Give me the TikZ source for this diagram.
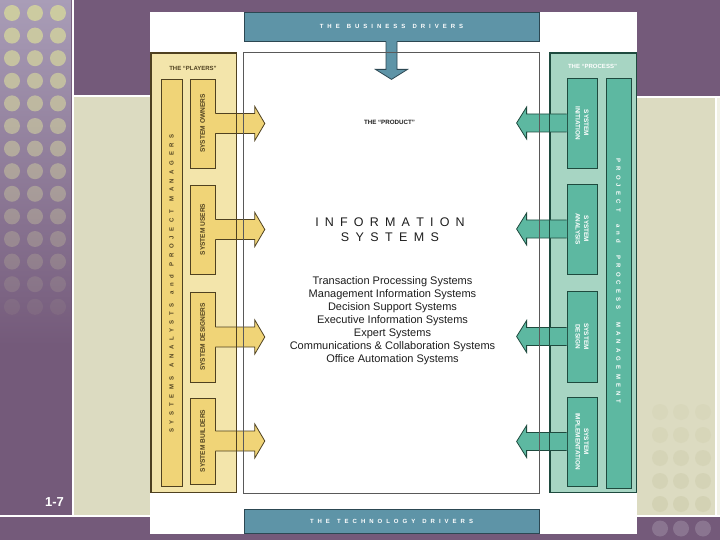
\documentclass[tikz,border=0pt]{standalone}
\usepackage{fontspec}
\setmainfont{Liberation Sans}
\usetikzlibrary{calc}
\definecolor{purp}{HTML}{745A7A}
\definecolor{lav}{HTML}{A99DB7}
\definecolor{khaki}{HTML}{DCDBC1}
\definecolor{khakidot}{HTML}{D2D1B2}
\definecolor{purpdot}{HTML}{8A7590}
\definecolor{dotc}{HTML}{CFCE9F}
\definecolor{bluebarc}{HTML}{5E94A7}
\definecolor{bluedark}{HTML}{2C4752}
\definecolor{ypan}{HTML}{F3E5AB}
\definecolor{ybarc}{HTML}{F0D477}
\definecolor{ydark}{HTML}{4F4120}
\definecolor{tpan}{HTML}{A7D5C3}
\definecolor{tbox}{HTML}{5DB8A1}
\definecolor{tdark}{HTML}{1E4A3E}
\definecolor{txt}{HTML}{1E1E1E}
\newcommand\fsz[1]{\fontsize{#1}{#1}\selectfont}
\makeatletter
\newcommand\spacedtext[3]{{\def\sp@gap{#1}\def\sp@word{#2}\sp@loop#3\@nil\kern-\sp@gap}}
\def\sp@loop#1{\ifx#1\@nil\else\ifx#1|\kern\sp@word\else#1\kern\sp@gap\fi\expandafter\sp@loop\fi}
\makeatother
\newcommand\yelarrow[1]{%
  \fill[ybarc] ($(#1.east)+(-0.6,-10)$) -- ++(40,0) -- ++(0,-7) -- ++(10,17) -- ++(-10,17) -- ++(0,-7) -- ++(-40,0) -- cycle;
  \draw[ydark, line width=0.8pt, line join=miter] ($(#1.east)+(0,-10)$) -- ++(39.4,0) -- ++(0,-7) -- ++(10,17) -- ++(-10,17) -- ++(0,-7) -- ++(-39.4,0);}
\newcommand\tealarrow[1]{%
  \fill[tbox] ($(#1.west)+(0.6,-9)$) -- ++(-40.6,0) -- ++(0,-7) -- ++(-10,16) -- ++(10,16) -- ++(0,-7) -- ++(40.6,0) -- cycle;
  \draw[tdark, line width=0.8pt, line join=miter] ($(#1.west)+(0,-9)$) -- ++(-40,0) -- ++(0,-7) -- ++(-10,16) -- ++(10,16) -- ++(0,-7) -- ++(40,0);}
\begin{document}
\begin{tikzpicture}[x=1pt,y=-1pt,
  bluebar/.style={draw=bluedark, fill=bluebarc, line width=0.8pt, inner sep=0pt, minimum width=295pt},
  ybox/.style={draw=ydark, fill=ybarc, line width=0.8pt, inner sep=0pt, minimum width=25pt},
  tboxs/.style={draw=tdark, fill=tbox, line width=0.8pt, inner sep=0pt, minimum width=30pt},
  ytext/.style={text=ydark, font=\bfseries\fsz{6.6}, inner sep=0pt},
  ttext/.style={text=white, font=\bfseries\fsz{6.4}, inner sep=0pt, align=center},
  listtext/.style={text=txt, font=\fontsize{11}{12.9}\selectfont, align=center, inner sep=0pt}]
\useasboundingbox (0,0) rectangle (720,540);
% background
\fill[purp] (0,0) rectangle (720,540);
\shade[top color=lav, bottom color=purp] (0,0) rectangle (71,345);
\foreach \i in {0,...,13}{
  \pgfmathsetmacro\op{0.95-0.066*\i}
  \foreach \x in {12,35,58}{
    \fill[dotc, opacity=\op] (\x,{13+22.6*\i}) circle (8pt);
  }
}
\draw[white, line width=2pt] (72.5,0) -- (72.5,516.5);
\fill[khaki] (73.5,97.5) rectangle (150,514.5);
\draw[white, line width=2pt] (73.5,96.5) -- (150,96.5);
\fill[khaki] (637,98.5) rectangle (715,514.5);
\fill[white!60!khaki] (717,98.5) rectangle (720,514.5);
\draw[white, line width=2pt] (637,97.5) -- (720,97.5);
\draw[white, line width=1.2pt] (716,97) -- (716,515);
\draw[white, line width=2pt] (0,515.5) -- (720,515.5);
\foreach \yy [count=\k] in {412,435,458,481,504}{
  \foreach \x in {660,681,703}{
    \fill[khakidot, opacity={0.25+0.12*\k}] (\x,\yy) circle (8pt);
  }
}
\foreach \x in {660,681,703}{\fill[purpdot] (\x,528.5) circle (8pt);}
\node[text=white, font=\bfseries\fsz{13}, inner sep=0pt] (pg) at (54.5,502.5) {1-7};
% white figure
\fill[white] (150,12) rectangle (637,534);
% drivers
\node[bluebar, minimum height=29pt] (bus) at (391.5,26.5) {};
\node[bluebar, minimum height=24pt] (tech) at (391.5,521) {};
\node[text=white, font=\bfseries\fsz{6}, inner sep=0pt] (busT) at (bus) {\spacedtext{4pt}{3pt}{THE|BUSINESS|DRIVERS}};
\node[text=white, font=\bfseries\fsz{6}, inner sep=0pt] (techT) at (tech) {\spacedtext{4pt}{3pt}{THE|TECHNOLOGY|DRIVERS}};
% product box
\node[minimum width=295pt, minimum height=440pt, inner sep=0pt] (prod) at (391.5,273) {};
% players panel
\node[fill=ypan, draw=ydark, line width=0.7pt, minimum width=85pt, minimum height=439pt, inner sep=0pt] (pl) at (193.5,272.5) {};
\node[ybox, minimum width=21pt, minimum height=407pt] (sapm) at (171.5,282.5) {};
\node[ybox, minimum height=89pt] (own) at (202.5,123.5) {};
\node[ybox, minimum height=89pt] (usr) at (202.5,229.5) {};
\node[ybox, minimum height=90pt] (des) at (202.5,337) {};
\node[ybox, minimum height=86pt] (bld) at (202.5,441) {};
% process panel
\node[fill=tpan, draw=tdark, line width=0.7pt, minimum width=86pt, minimum height=439pt, inner sep=0pt] (pr) at (593,272.5) {};
\node[tboxs, minimum width=25pt, minimum height=410pt] (ppm) at (618.5,283) {};
\node[tboxs, minimum height=90pt] (ini) at (582,123) {};
\node[tboxs, minimum height=90pt] (ana) at (582,229) {};
\node[tboxs, minimum height=91pt] (dsg) at (582,336.5) {};
\node[tboxs, minimum height=89pt] (imp) at (582,441.5) {};
% block arrows
\fill[bluebarc] ($(bus.south)+(-5.5,-0.6)$) -- ++(0,28.6) -- ++(-10.5,0) -- ++(16,10) -- ++(16,-10) -- ++(-10.5,0) -- ++(0,-28.6) -- cycle;
\draw[bluedark, line width=0.8pt] ($(bus.south)+(-5.5,0)$) -- ++(0,28) -- ++(-10.5,0) -- ++(16,10) -- ++(16,-10) -- ++(-10.5,0) -- ++(0,-28);
\yelarrow{own}
\yelarrow{usr}
\yelarrow{des}
\yelarrow{bld}
\tealarrow{ini}
\tealarrow{ana}
\tealarrow{dsg}
\tealarrow{imp}
% borders on top
\draw[ydark, line width=0.7pt] (pl.north west) rectangle (pl.south east);
\draw[tdark, line width=0.7pt] (pr.north west) rectangle (pr.south east);
\draw[black!65, line width=1.1pt] (prod.north west) rectangle (prod.south east);
% texts
\node[text=ydark, font=\bfseries\fsz{6}, inner sep=0pt] (plT) at (193,68) {THE “PLAYERS”};
\node[text=white, font=\bfseries\fsz{6}, inner sep=0pt] (prT) at (592.5,66) {THE “PROCESS”};
\node[ytext, font=\bfseries\fsz{6}, rotate=90] (sapmT) at (171.5,283.5) {\spacedtext{4.6pt}{4pt}{SYSTEMS|ANALYSTS|and|PROJECT|MANAGERS}};
\node[ytext, rotate=90] (ownT) at (own) {SYSTEM OWNERS};
\node[ytext, rotate=90] (usrT) at (usr) {SYSTEM USERS};
\node[ytext, rotate=90] (desT) at (des) {SYSTEM DESIGNERS};
\node[ytext, rotate=90] (bldT) at (bld) {SYSTEM BUILDERS};
\node[text=white, font=\bfseries\fsz{6}, inner sep=0pt, rotate=-90] (ppmT) at (618.5,281) {\spacedtext{4.2pt}{8pt}{PROJECT|and|PROCESS|MANAGEMENT}};
\node[ttext, rotate=-90, font=\bfseries\fontsize{6.4}{8.6}\selectfont] (iniT) at (ini) {SYSTEM\\INITIATION};
\node[ttext, rotate=-90, font=\bfseries\fontsize{6.4}{8.6}\selectfont] (anaT) at (ana) {SYSTEM\\ANALYSIS};
\node[ttext, rotate=-90, font=\bfseries\fontsize{6.4}{8.6}\selectfont] (dsgT) at (dsg) {SYSTEM\\DESIGN};
\node[ttext, rotate=-90, font=\bfseries\fontsize{6.4}{8.6}\selectfont] (impT) at (imp) {SYSTEM\\IMPLEMENTATION};
\node[text=txt, font=\bfseries\fsz{6.2}, inner sep=0pt] (prodT) at (389.5,122) {THE “PRODUCT”};
\node[text=txt, font=\fsz{12.5}, inner sep=0pt] (is1) at (390,222) {\spacedtext{6.2pt}{0pt}{INFORMATION}};
\node[text=txt, font=\fsz{12.5}, inner sep=0pt] (is2) at (390,237) {\spacedtext{6.4pt}{0pt}{SYSTEMS}};
\node[listtext] (list) at (392.5,320.5) {Transaction Processing Systems\\Management Information Systems\\Decision Support Systems\\Executive Information Systems\\Expert Systems\\Communications \& Collaboration Systems\\Office Automation Systems};
\end{tikzpicture}
\end{document}
